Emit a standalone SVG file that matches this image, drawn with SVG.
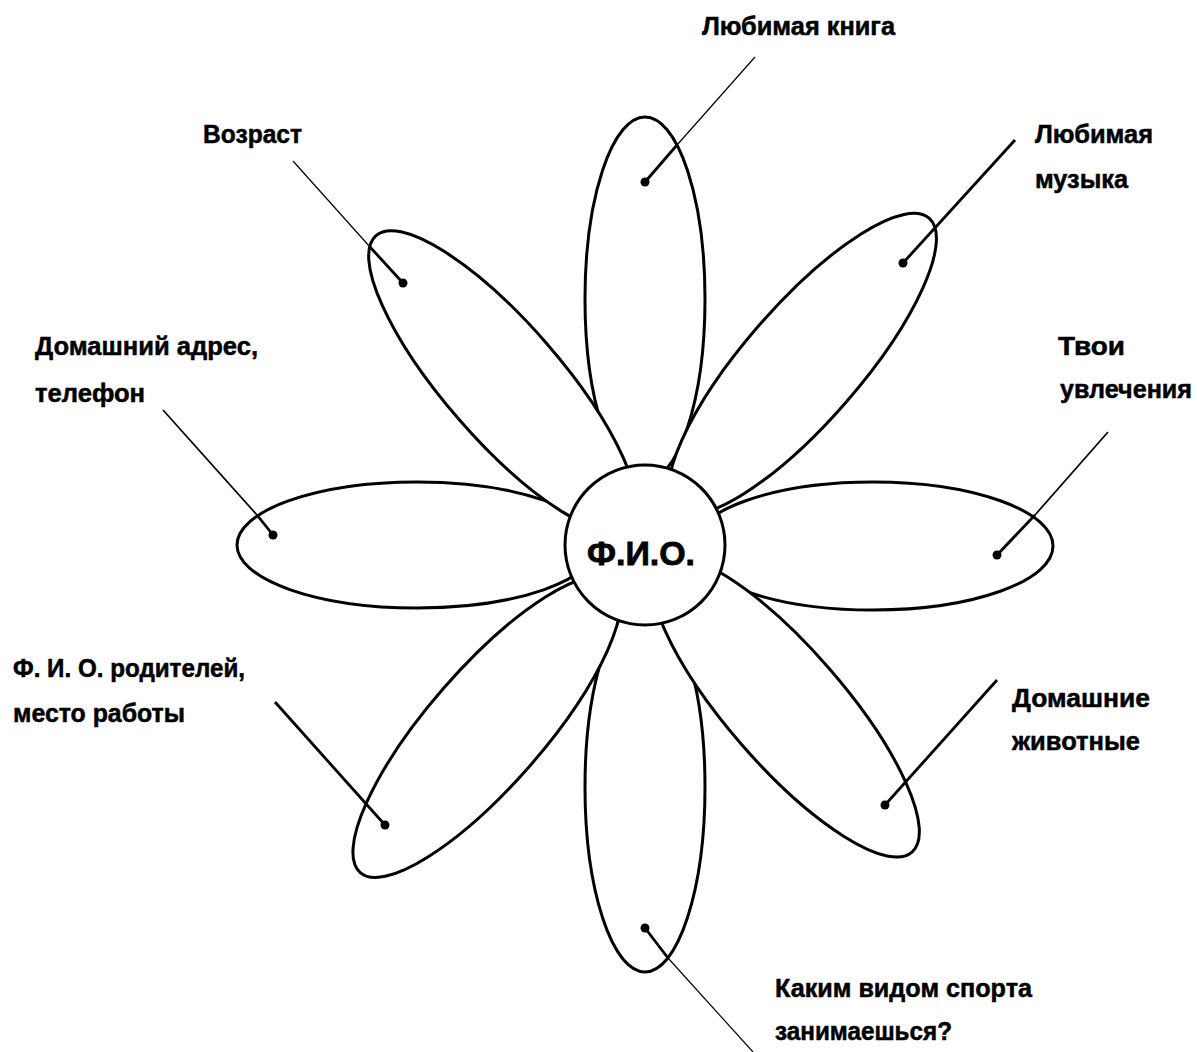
<svg xmlns="http://www.w3.org/2000/svg" width="1197" height="1052" viewBox="0 0 1197 1052">
<style>
.petal{fill:#fff;stroke:#000;stroke-width:3}
.core{fill:#fff;stroke:#000;stroke-width:3}
.lbl{font-family:"Liberation Sans",Arial,sans-serif;font-weight:bold;font-size:25px;fill:#000;stroke:#000;stroke-width:0.5}
.ttl{font-family:"Liberation Sans",Arial,sans-serif;font-weight:bold;font-size:34px;fill:#000;stroke:#000;stroke-width:0.8}
.thick{stroke:#000;stroke-width:2.8;fill:none}
.thin{stroke:#000;stroke-width:1.2;fill:none}
.mid{stroke:#000;stroke-width:1.7;fill:none}
.dot{fill:#000}
</style>
<rect width="1197" height="1052" fill="#fff"/>
<g id="petal-top"><ellipse class="petal" cx="645" cy="299" rx="60" ry="182"/></g>
<g id="petal-bottom"><ellipse class="petal" cx="645" cy="787" rx="60" ry="185"/></g>
<g id="petal-left"><ellipse class="petal" cx="417" cy="545" rx="180" ry="63"/></g>
<g id="petal-right"><ellipse class="petal" cx="873" cy="546" rx="180" ry="64"/></g>
<g id="petal-upper-right"><ellipse class="petal" cx="240" cy="0" rx="193" ry="58" transform="translate(645,545) rotate(-49)"/></g>
<g id="petal-upper-left"><ellipse class="petal" cx="217" cy="0" rx="193" ry="58" transform="translate(645,545) rotate(-131)"/></g>
<g id="petal-lower-left"><ellipse class="petal" cx="241" cy="0" rx="193" ry="58" transform="translate(645,545) rotate(131)"/></g>
<g id="petal-lower-right"><ellipse class="petal" cx="214" cy="0" rx="193" ry="58" transform="translate(645,545) rotate(49)"/></g>
<g id="center">
<circle class="core" cx="645" cy="545" r="80"/>
<text class="ttl" x="587" y="565" textLength="108" lengthAdjust="spacingAndGlyphs">Ф.И.О.</text>
</g>
<g id="connectors">
<line class="thick" x1="645" y1="182" x2="677" y2="145"/>
<line class="thin" x1="677" y1="145" x2="755" y2="57"/>
<line class="thick" x1="403" y1="283" x2="370" y2="247"/>
<line class="thin" x1="370" y1="247" x2="293" y2="161"/>
<line class="thick" x1="273" y1="535" x2="257" y2="515"/>
<line class="mid" x1="257" y1="515" x2="163" y2="410"/>
<line class="thick" x1="903" y1="263" x2="1015" y2="140"/>
<line class="thick" x1="997" y1="555" x2="1035" y2="515"/>
<line class="mid" x1="1035" y1="515" x2="1108" y2="432"/>
<line class="thick" x1="885" y1="805" x2="997" y2="680"/>
<line class="thick" x1="385" y1="825" x2="275" y2="702"/>
<line class="thick" x1="645" y1="928" x2="668" y2="958"/>
<line class="thin" x1="668" y1="958" x2="753" y2="1052"/>
<circle class="dot" cx="645" cy="182" r="4.5"/>
<circle class="dot" cx="403" cy="283" r="4.5"/>
<circle class="dot" cx="273" cy="535" r="4.5"/>
<circle class="dot" cx="903" cy="263" r="4.5"/>
<circle class="dot" cx="997" cy="555" r="4.5"/>
<circle class="dot" cx="885" cy="805" r="4.5"/>
<circle class="dot" cx="385" cy="825" r="4.5"/>
<circle class="dot" cx="645" cy="928" r="4.5"/>
</g>
<g id="labels">
<text class="lbl" x="702" y="35" textLength="193" lengthAdjust="spacingAndGlyphs">Любимая книга</text>
<text class="lbl" x="203" y="143" textLength="99" lengthAdjust="spacingAndGlyphs">Возраст</text>
<text class="lbl" x="35" y="355" textLength="223" lengthAdjust="spacingAndGlyphs">Домашний адрес,</text>
<text class="lbl" x="35" y="402" textLength="110" lengthAdjust="spacingAndGlyphs">телефон</text>
<text class="lbl" x="1035" y="143" textLength="118" lengthAdjust="spacingAndGlyphs">Любимая</text>
<text class="lbl" x="1035" y="188" textLength="93" lengthAdjust="spacingAndGlyphs">музыка</text>
<text class="lbl" x="1058" y="355" textLength="67" lengthAdjust="spacingAndGlyphs">Твои</text>
<text class="lbl" x="1060" y="398" textLength="132" lengthAdjust="spacingAndGlyphs">увлечения</text>
<text class="lbl" x="1012" y="707" textLength="138" lengthAdjust="spacingAndGlyphs">Домашние</text>
<text class="lbl" x="1012" y="750" textLength="128" lengthAdjust="spacingAndGlyphs">животные</text>
<text class="lbl" x="13" y="677" textLength="232" lengthAdjust="spacingAndGlyphs">Ф. И. О. родителей,</text>
<text class="lbl" x="13" y="722" textLength="172" lengthAdjust="spacingAndGlyphs">место работы</text>
<text class="lbl" x="775" y="997" textLength="257" lengthAdjust="spacingAndGlyphs">Каким видом спорта</text>
<text class="lbl" x="775" y="1040" textLength="177" lengthAdjust="spacingAndGlyphs">занимаешься?</text>
</g>
</svg>
